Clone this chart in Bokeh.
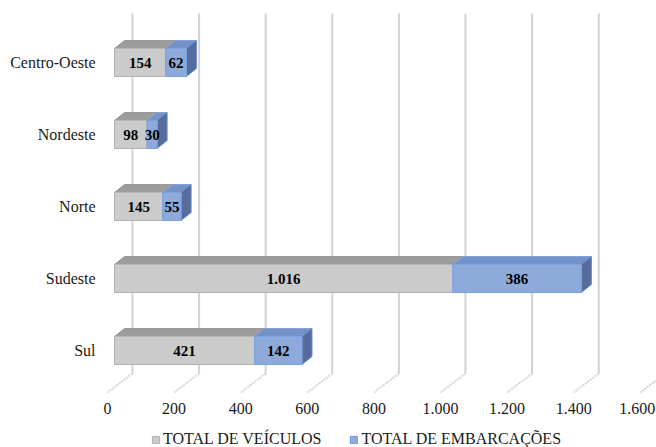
from bokeh.plotting import figure
from bokeh.models import Range1d, ColumnDataSource, Legend, LegendItem
from bokeh.core.properties import value
from bokeh.embed import file_html
from bokeh.resources import INLINE

# --- data -------------------------------------------------------------
regions = ["Centro-Oeste", "Nordeste", "Norte", "Sudeste", "Sul"]
veiculos = [154, 98, 145, 1016, 421]
embarcacoes = [62, 30, 55, 386, 142]
x_ticks = [0, 200, 400, 600, 800, 1000, 1200, 1400, 1600]
x_tick_labels = ["0", "200", "400", "600", "800", "1.000", "1.200", "1.400", "1.600"]
series_names = ["TOTAL DE VEÍCULOS", "TOTAL DE EMBARCAÇÕES"]

# --- layout (pixels) ---------------------------------------------------
W, H = 656, 447
PX_PER_UNIT = 0.333      # horizontal scale
ORIGIN_PX = 107          # value 0 on the front edge of the floor
ROW_PX = 72              # distance between category rows
LAST_ROW_PX = 350        # centre of the bottom row, from the top
BAR_SHIFT = 7            # bars sit slightly behind the floor edge
WALL_SHIFT = 25          # back wall offset
FLOOR_DROP = 19          # floor depth (vertical)
BAR_HALF = 14            # half height of a bar's front face
DEPTH_X, DEPTH_Y = 10, 8 # bar depth
WALL_TOP, WALL_BOTTOM = 13, 373
TICK_LABEL_Y = 408
SERIF = "Liberation Serif"

ux = 1.0 / PX_PER_UNIT   # data units per horizontal pixel
uy = 1.0 / ROW_PX        # data units per vertical pixel


def ypx(py):
    """Convert a pixel row (from the top) to the vertical data coordinate."""
    return (LAST_ROW_PX - py) * uy


p = figure(
    width=W, height=H,
    x_range=Range1d(-ORIGIN_PX * ux, (W - ORIGIN_PX) * ux),
    y_range=Range1d(ypx(H), ypx(0)),
    output_backend="svg", toolbar_location=None,
    min_border=0, outline_line_color=None,
    background_fill_color="white", border_fill_color="white",
)
p.axis.visible = False
p.grid.visible = False

# --- back wall gridlines and floor lines --------------------------------
wall_xs, wall_ys, floor_xs, floor_ys = [], [], [], []
for t in x_ticks:
    xb = t + WALL_SHIFT * ux
    wall_xs.append([xb, xb])
    wall_ys.append([ypx(WALL_TOP), ypx(WALL_BOTTOM)])
    floor_xs.append([xb, t])
    floor_ys.append([ypx(WALL_BOTTOM), ypx(WALL_BOTTOM + FLOOR_DROP)])
p.multi_line(wall_xs, wall_ys, line_color="#d2d2d2", line_width=2)
p.multi_line(floor_xs, floor_ys, line_color="#d6d6d6", line_width=2, line_dash="2 1")

# --- 3D stacked bars ---------------------------------------------------
n = len(regions)
rows = [n - 1 - i for i in range(n)]
shift = BAR_SHIFT * ux
dx, dy, h = DEPTH_X * ux, DEPTH_Y * uy, BAR_HALF * uy


def faces(starts, ends):
    front_x, front_y, top_x, top_y, side_x, side_y = [], [], [], [], [], []
    for s, e, r in zip(starts, ends, rows):
        x0, x1 = s + shift, e + shift
        yb, yt = r - h, r + h
        front_x.append([x0, x1, x1, x0])
        front_y.append([yb, yb, yt, yt])
        top_x.append([x0, x1, x1 + dx, x0 + dx])
        top_y.append([yt, yt, yt + dy, yt + dy])
        side_x.append([x1, x1 + dx, x1 + dx, x1])
        side_y.append([yb, yb + dy, yt + dy, yt])
    return front_x, front_y, top_x, top_y, side_x, side_y


zeros = [0] * n
v_end = veiculos
e_end = [a + b for a, b in zip(veiculos, embarcacoes)]

gfx, gfy, gtx, gty, _, _ = faces(zeros, v_end)
bfx, bfy, btx, bty, bsx, bsy = faces(v_end, e_end)

p.patches(gtx, gty, fill_color="#9d9d9d", line_color="#999999", line_width=1)
r_gray = p.patches(gfx, gfy, fill_color="#cbcbcb", line_color="#b3b3b3", line_width=1)
p.patches(btx, bty, fill_color="#7592c6", line_color="#7fa3df", line_width=1)
p.patches(bsx, bsy, fill_color="#566c9c", line_color="#6b8cc8", line_width=1)
r_blue = p.patches(bfx, bfy, fill_color="#8eaadb", line_color="#79a2e2", line_width=1.2)

# --- value labels ------------------------------------------------------
def fmt(v):
    return f"{v:,}".replace(",", ".")

lab = ColumnDataSource(dict(
    x=[v / 2 + shift for v in veiculos] + [a + b / 2 + shift for a, b in zip(veiculos, embarcacoes)],
    y=rows + rows,
    t=[fmt(v) for v in veiculos] + [fmt(v) for v in embarcacoes],
))
p.text("x", "y", text="t", source=lab, text_align="center", text_baseline="middle",
       text_font=value(SERIF), text_font_size="15px", text_font_style="bold",
       text_color="black")

# --- category labels ---------------------------------------------------
cat = ColumnDataSource(dict(x=[-12 * ux] * n, y=rows, t=regions))
p.text("x", "y", text="t", source=cat, text_align="right", text_baseline="middle",
       text_font=value(SERIF), text_font_size="16px", text_color="#1a1a1a")

# --- value axis labels (the last one is nudged to stay inside the canvas) ---
tick_dx = [0] * (len(x_ticks) - 1) + [-3]
ticks = ColumnDataSource(dict(x=x_ticks, y=[ypx(TICK_LABEL_Y)] * len(x_ticks),
                              t=x_tick_labels, dx=tick_dx))
p.text("x", "y", text="t", source=ticks, x_offset="dx",
       text_align="center", text_baseline="middle",
       text_font=value(SERIF), text_font_size="16px", text_color="#1a1a1a")

# --- legend ------------------------------------------------------------
legend = Legend(
    items=[LegendItem(label=series_names[0], renderers=[r_gray]),
           LegendItem(label=series_names[1], renderers=[r_blue])],
    orientation="horizontal", location=(151, -1),
    padding=0, margin=0, spacing=28, label_standoff=3,
    glyph_width=9, glyph_height=9, label_height=16,
    label_text_font=SERIF, label_text_font_size="16px",
    label_text_color="#1a1a1a",
    background_fill_alpha=0, border_line_alpha=0,
)
p.add_layout(legend)

open("out.html", "w").write(file_html(p, INLINE))
